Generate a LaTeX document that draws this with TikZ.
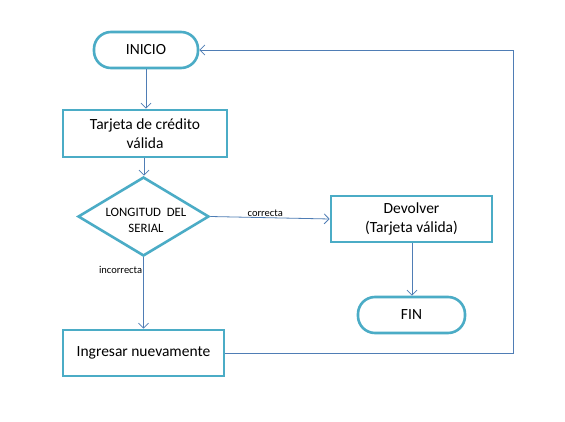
\documentclass[tikz,border=0pt]{standalone}
\usepackage{fontspec}
\setmainfont{Carlito}
\usetikzlibrary{shapes.geometric,arrows.meta}
\definecolor{boxc}{HTML}{4BACC6}
\definecolor{linec}{HTML}{4F7DB5}
\begin{document}
\begin{tikzpicture}[x=1pt,y=-1pt,
  box/.style={draw=boxc,line width=2.6pt,rectangle,inner sep=0pt,align=center,font=\fontsize{15.5}{19.5}\selectfont},
  pill/.style={box,rounded corners=17pt},
  decision/.style={draw=boxc,line width=2.6pt,diamond,inner sep=0pt},
  dectext/.style={align=center,inner sep=0pt,font=\fontsize{12.8}{16}\selectfont},
  conn/.style={draw=linec,line width=0.8pt,-{Straight Barb[length=5pt,width=10pt,line width=0.8pt]}},
  lbl/.style={font=\fontsize{10.5}{12}\selectfont,inner sep=1pt}]
\useasboundingbox (0,0) rectangle (565,422);
\fill[white] (0,0) rectangle (565,422);
\node[pill,minimum width=104pt,minimum height=36pt] (inicio) at (146,50) {INICIO};
\node[box,minimum width=164pt,minimum height=47pt] (tarjeta) at (145,133.5) {Tarjeta de crédito\\válida};
\node[decision,minimum width=131pt,minimum height=79pt] (dec) at (143.5,216.5) {};
\node[dectext] (dect) at (146,220) {LONGITUD\ \ DEL\\SERIAL};
\node[box,minimum width=161pt,minimum height=46pt] (devolver) at (411.5,219) {Devolver\\(Tarjeta válida)};
\node[pill,minimum width=107pt,minimum height=36pt] (fin) at (411.5,315) {FIN};
\node[box,minimum width=161pt,minimum height=46pt] (ingresar) at (143.5,353) {Ingresar nuevamente};
\coordinate (c1) at (513,353);
\coordinate (c2) at (513,50);
\draw[conn] (inicio.south -| 146,0) -- (tarjeta.north -| 146,0);
\draw[conn] (tarjeta.south -| 144,0) -- (dec.north -| 144,0);
\draw[conn] (dec.east) -- node[lbl,above,pos=0.46]{correcta} (devolver.west);
\draw[conn] (devolver.south -| 412,0) -- (fin.north -| 412,0);
\draw[conn] (dec.south -| 143.5,0) -- node[lbl,left,pos=0.18]{incorrecta} (ingresar.north -| 143.5,0);
\draw[conn] (ingresar.east) -- (c1) -- (c2) -- (inicio.east);
\end{tikzpicture}
\end{document}
